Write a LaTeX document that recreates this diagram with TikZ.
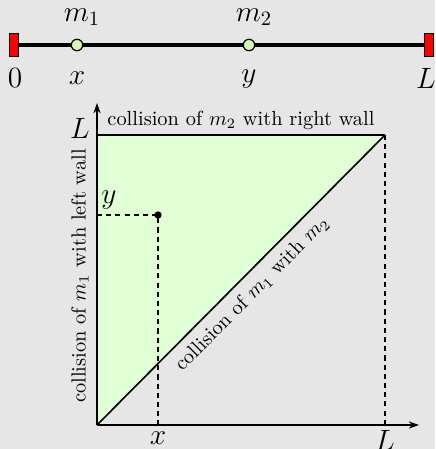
\documentclass[tikz,border=0pt]{standalone}
\usetikzlibrary{arrows.meta}
\definecolor{bg}{HTML}{E6E6E6}
\definecolor{region}{HTML}{E0FFD4}
\definecolor{ball}{HTML}{D4F8B8}
\begin{document}
\begin{tikzpicture}[x=0.49pt,y=-0.49pt,
  wall/.style={draw=black,fill=red,line width=0.6pt,minimum width=4.2pt,minimum height=11pt,inner sep=0pt},
  mass/.style={circle,draw=black,fill=ball,line width=0.6pt,minimum size=5.6pt,inner sep=0pt},
  biglab/.style={font=\Large,inner sep=1pt},
  axis/.style={line width=0.9pt,-{Stealth[length=5pt,width=3.5pt]}},
  guide/.style={dashed,line width=0.5pt,dash pattern=on 2.5pt off 2pt}]
\fill[bg] (0,0) rectangle (435,449);
\useasboundingbox (0,0) rectangle (435,449);
% top: 1D system
\coordinate (lw) at (14,45);
\coordinate (rw) at (429,45);
\draw[line width=1.6pt] (lw) -- (rw);
\node[wall] (lwall) at (lw) {};
\node[wall] (rwall) at (rw) {};
\node[mass] (m1) at (77,45) {};
\node[mass] (m2) at (249,45) {};
\node[biglab] (lm1) at (82,17) {$m_1$};
\node[biglab] (lm2) at (254,17) {$m_2$};
\node[biglab] (l0) at (15,78) {$0$};
\node[biglab] (lx) at (77,78) {$x$};
\node[biglab] (ly) at (249,79) {$y$};
\node[biglab] (lL) at (426,78) {$L$};
% bottom: configuration space
\coordinate (O) at (97,425);
\coordinate (Y) at (97,135);
\coordinate (C) at (385,135);
\coordinate (xend) at (419,425);
\coordinate (yend) at (97,103);
\fill[region] (O) -- (Y) -- (C) -- cycle;
\draw[guide] (C) -- (385,425);
\coordinate (P) at (158,215);
\draw[guide] (97,215) -- (P) -- (158,425);
\fill (P) circle (1.8pt);
\draw[line width=0.9pt] (Y) -- (C) node[midway,above,yshift=-1pt] {collision of $m_2$ with right wall};
\draw[line width=0.8pt] (O) -- (C) node[pos=0.495,sloped,below,yshift=-0.5pt] {collision of $m_1$ with $m_2$};
\draw[axis] (O) -- (xend);
\draw[axis] (O) -- (yend);
\node[rotate=90] (lwl) at (80,276) {collision of $m_1$ with left wall};
\node[biglab] (Ly) at (80,128) {$L$};
\node[biglab] (yy) at (109,200) {$y$};
\node[biglab] (xx) at (158,438) {$x$};
\node[biglab] (Lx) at (385,440) {$L$};
\end{tikzpicture}
\end{document}
